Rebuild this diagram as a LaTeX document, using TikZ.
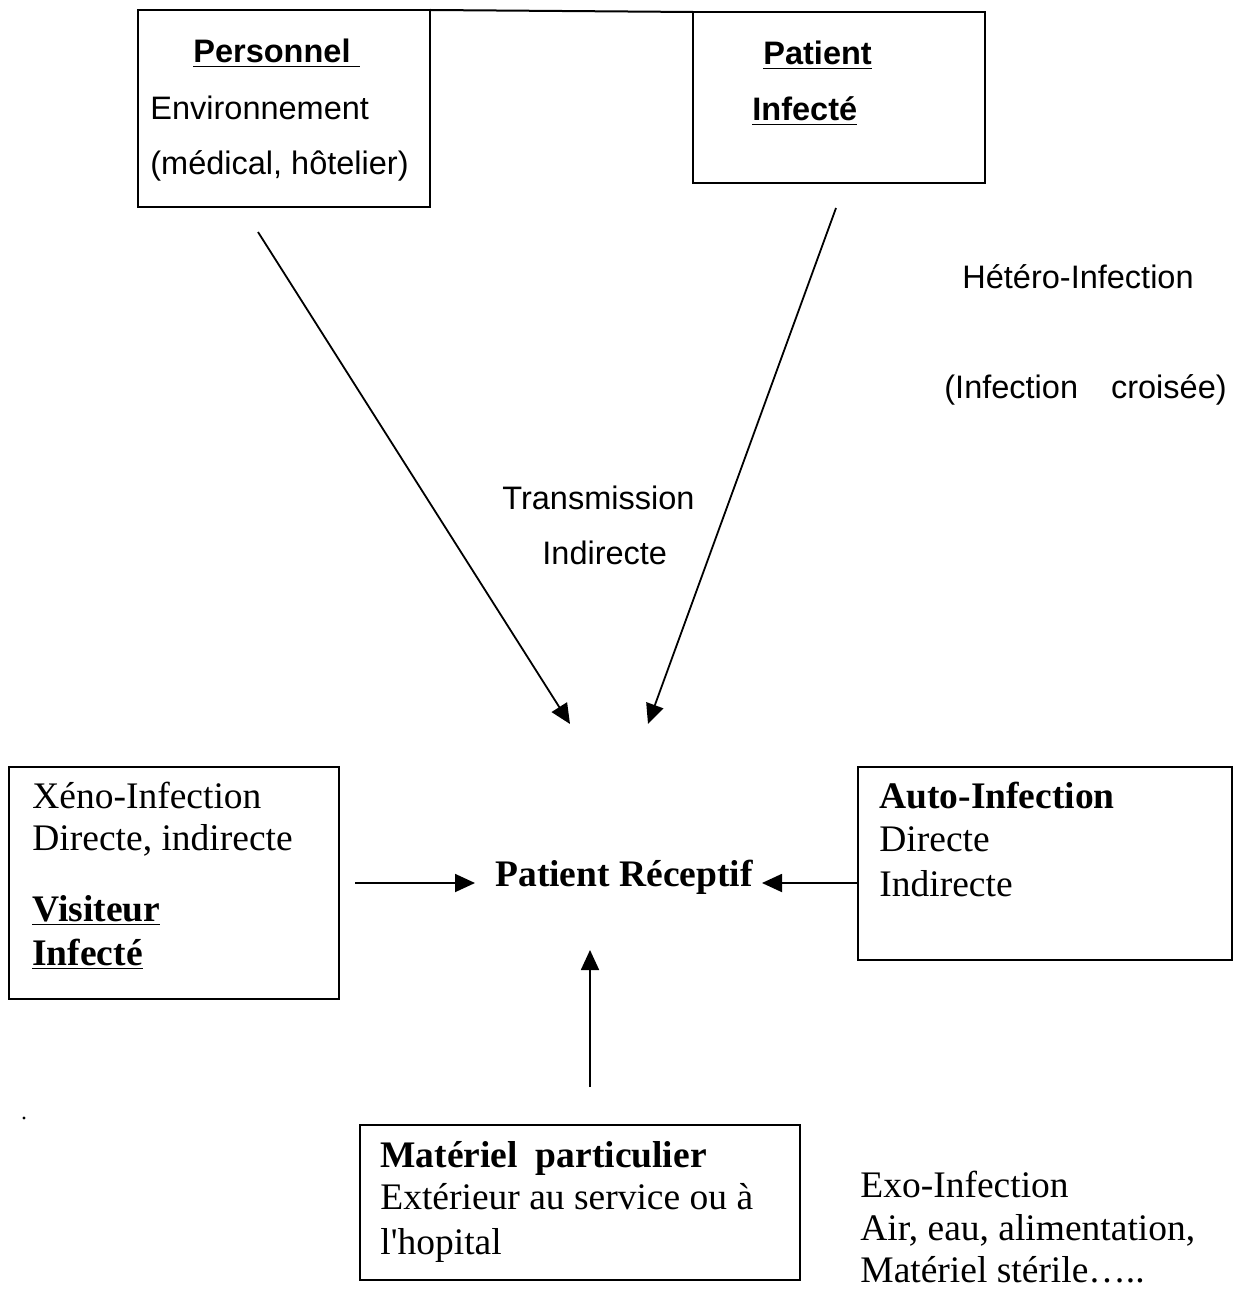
\documentclass[tikz,border=0pt]{standalone}
\usepackage{fontspec}
\setmainfont{Liberation Serif}
\newfontfamily\arialf{Liberation Sans}
\usetikzlibrary{arrows.meta}
\begin{document}
\begin{tikzpicture}[x=0.5pt,y=-0.5pt,
  box/.style={draw, line width=1pt, inner sep=0pt, outer sep=0pt},
  sanstxt/.style={inner sep=0pt, anchor=base west, font=\arialf\fontsize{16.25pt}{19pt}\selectfont},
  seriftxt/.style={inner sep=0pt, anchor=base west, font=\fontsize{18.75pt}{22pt}\selectfont},
  arr/.style={line width=0.9pt, -{Triangle[length=10pt,width=9pt]}}]
\useasboundingbox (0,0) rectangle (1240,1289);
% boxes
\node[box, minimum width=146pt, minimum height=98.5pt] (pers) at (284,108.5) {};
\node[box, minimum width=146pt, minimum height=85.5pt] (pat) at (839,97.5) {};
\node[box, minimum width=165pt, minimum height=116pt] (xeno) at (174,883) {};
\node[box, minimum width=187pt, minimum height=96.5pt] (auto) at (1045,863.5) {};
\node[box, minimum width=220pt, minimum height=77.5pt] (mat) at (580,1202.5) {};
\draw[line width=1pt] (pers.north east) -- (pat.north west);
% top-left texts
\node[sanstxt] (t1) at (193,63) {\textbf{\underline{Personnel\ }}};
\node[sanstxt] (t2) at (150,120) {Environnement};
\node[sanstxt] (t3) at (150,175) {(médical, hôtelier)};
% top-right texts
\node[sanstxt] (t4) at (763,65) {\textbf{\underline{Patient}}};
\node[sanstxt] (t5) at (752,121) {\textbf{\underline{Infecté}}};
\node[sanstxt] (t6) at (962,288) {Hétéro-Infection};
\node[sanstxt] (t7) at (944,398) {(Infection\hspace{16.5pt}croisée)};
\node[sanstxt] (t8) at (502,509) {Transmission};
\node[sanstxt] (t9) at (542,564) {Indirecte};
% left box texts
\node[seriftxt] (x1) at (32,808) {Xéno-Infection};
\node[seriftxt] (x2) at (32,850) {Directe, indirecte};
\node[seriftxt] (x3) at (32,921) {\textbf{\underline{Visiteur}}};
\node[seriftxt] (x4) at (32,965) {\textbf{\underline{Infecté}}};
% center
\node[seriftxt] (rec) at (495,886) {\textbf{Patient Réceptif}};
% right box texts
\node[seriftxt] (a1) at (879,808) {\textbf{Auto-Infection}};
\node[seriftxt] (a2) at (879,851) {Directe};
\node[seriftxt] (a3) at (879,896) {Indirecte};
% bottom box texts
\node[seriftxt] (m1) at (380,1167) {\textbf{Matériel\hspace{9pt}particulier}};
\node[seriftxt] (m2) at (380,1209) {Extérieur au service ou à};
\node[seriftxt] (m3) at (380,1254) {l\textquotesingle hopital};
% exo texts
\node[seriftxt] (e1) at (860,1197) {Exo-Infection};
\node[seriftxt] (e2) at (860,1240) {Air, eau, alimentation,};
\node[seriftxt] (e3) at (860,1282) {Matériel stérile\dots..};
% arrow endpoints
\coordinate (s1) at (258,232);
\coordinate (e1p) at (570,724);
\coordinate (s2) at (836,208);
\coordinate (e2p) at (648,724);
\coordinate (s3) at (355,883);
\coordinate (e3p) at (475,883);
\coordinate (e4p) at (762,883);
\coordinate (s5) at (590,1087);
\coordinate (e5p) at (590,950);
\draw[arr] (s1) -- (e1p);
\draw[arr] (s2) -- (e2p);
\draw[arr] (s3) -- (e3p);
\draw[arr] (auto.west |- e4p) -- (e4p);
\draw[arr] (s5) -- (e5p);
% speck
\fill (24,1118) circle (0.8pt);
\end{tikzpicture}
\end{document}
